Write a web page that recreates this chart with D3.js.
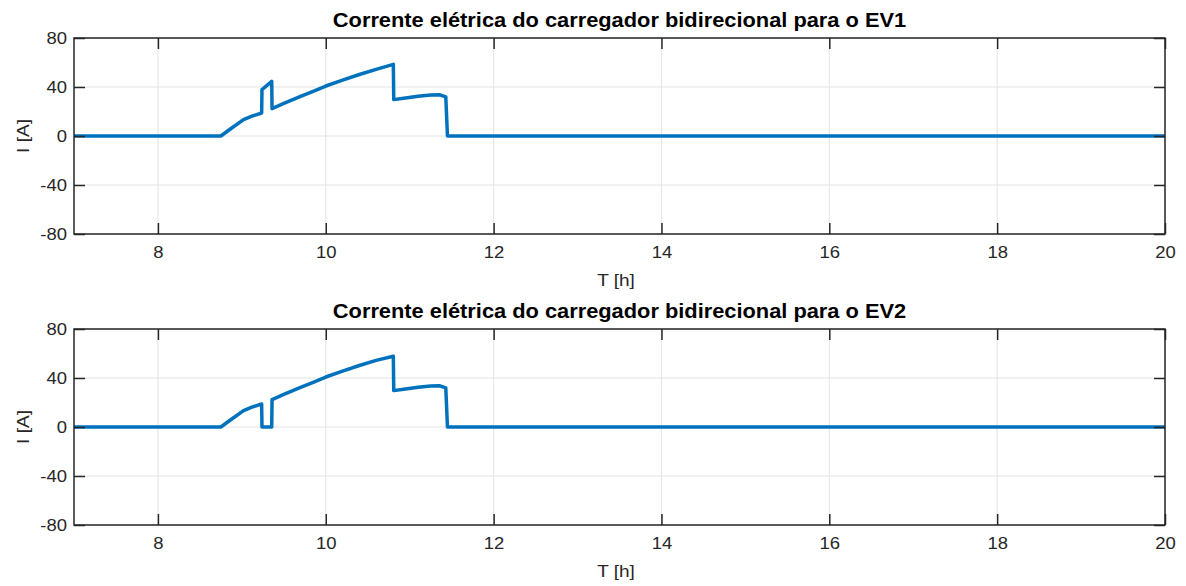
<!DOCTYPE html>
<html>
<head>
<meta charset="utf-8">
<script src="https://cdn.jsdelivr.net/npm/d3@7"></script>
<style>
  html, body { margin: 0; padding: 0; background: #fff; }
  svg { display: block; font-family: "Liberation Sans", Arial, Helvetica, sans-serif; }
</style>
</head>
<body>
<svg id="chart" width="1186" height="586"></svg>
<script>
// Time axis (hours) and charger current (A) for each vehicle
const timeEV1 = [7, 8.75, 8.88, 9.02, 9.12, 9.236, 9.24, 9.356, 9.36, 9.5, 9.7, 9.85, 10.0, 10.2, 10.4, 10.6, 10.805, 10.81, 10.95, 11.1, 11.25, 11.36, 11.43, 11.45, 20];
const currentEV1 = [0, 0, 6.5, 13.4, 16.2, 18.8, 37.9, 44.6, 22.3, 26.6, 32.3, 36.5, 40.8, 45.6, 50.2, 54.4, 58.5, 29.7, 31.0, 32.4, 33.4, 33.6, 32.0, 0, 0];

const timeEV2 = [7, 8.75, 8.88, 9.02, 9.12, 9.236, 9.24, 9.356, 9.36, 9.5, 9.7, 9.85, 10.0, 10.2, 10.4, 10.6, 10.805, 10.81, 10.95, 11.1, 11.25, 11.36, 11.43, 11.45, 20];
const currentEV2 = [0, 0, 6.5, 13.4, 16.2, 18.8, 0, 0, 22.3, 26.6, 32.3, 36.5, 40.8, 45.6, 50.2, 54.4, 57.8, 29.7, 31.0, 32.4, 33.4, 33.6, 32.0, 0, 0];

const xTicks = [8, 10, 12, 14, 16, 18, 20];
const yTicks = [-80, -40, 0, 40, 80];

const panels = [
  { title: "Corrente elétrica do carregador bidirecional para o EV1", t: timeEV1, i: currentEV1, top: 38, bottom: 234 },
  { title: "Corrente elétrica do carregador bidirecional para o EV2", t: timeEV2, i: currentEV2, top: 329, bottom: 525 }
];

const svg = d3.select("#chart");
const left = 74, right = 1165;
const axisColor = "#262626";
const tickLen = 11;
const stretch = 1.12;   // slightly widened glyphs

// widen a text element horizontally around its anchor point
function widen(sel, k) {
  sel.each(function () {
    const t = d3.select(this);
    const ax = +t.attr("x") || 0;
    const prev = t.attr("transform") || "";
    t.attr("transform", `${prev} translate(${ax},0) scale(${k},1) translate(${-ax},0)`);
  });
}

panels.forEach(p => {
  const x = d3.scaleLinear().domain([7, 20]).range([left, right]);
  const y = d3.scaleLinear().domain([-80, 80]).range([p.bottom, p.top]);
  const g = svg.append("g");

  // grid
  g.selectAll(".gx").data(xTicks).join("line")
    .attr("x1", d => x(d)).attr("x2", d => x(d))
    .attr("y1", p.top).attr("y2", p.bottom)
    .attr("stroke", "#e3e3e3").attr("stroke-width", 1);
  g.selectAll(".gy").data(yTicks).join("line")
    .attr("x1", left).attr("x2", right)
    .attr("y1", d => y(d)).attr("y2", d => y(d))
    .attr("stroke", "#e3e3e3").attr("stroke-width", 1);

  // series line
  const line = d3.line().x((d, k) => x(p.t[k])).y(d => y(d));
  g.append("path").datum(p.i)
    .attr("d", line)
    .attr("fill", "none")
    .attr("stroke", "#0072BD")
    .attr("stroke-width", 3.5)
    .attr("stroke-linejoin", "round");

  // axes (inward ticks, mirrored on all sides)
  const fmt = d => String(d);
  const axB = d3.axisBottom(x).tickValues(xTicks).tickFormat(fmt).tickSizeInner(-tickLen).tickSizeOuter(0).tickPadding(12.5);
  const axT = d3.axisTop(x).tickValues(xTicks).tickSizeInner(-tickLen).tickSizeOuter(0).tickFormat("");
  const axL = d3.axisLeft(y).tickValues(yTicks).tickFormat(fmt).tickSizeInner(-tickLen).tickSizeOuter(0).tickPadding(7);
  const axR = d3.axisRight(y).tickValues(yTicks).tickSizeInner(-tickLen).tickSizeOuter(0).tickFormat("");

  const styleAxis = sel => {
    sel.select(".domain").remove();
    sel.selectAll("line").attr("stroke", axisColor).attr("stroke-width", 1.5);
    sel.selectAll("text").attr("fill", axisColor).style("font-size", "16.5px")
      .style("font-family", "Liberation Sans, Arial, sans-serif")
      .call(widen, stretch);
  };
  g.append("g").attr("transform", `translate(0,${p.bottom})`).call(axB).call(styleAxis);
  g.append("g").attr("transform", `translate(0,${p.top})`).call(axT).call(styleAxis);
  g.append("g").attr("transform", `translate(${left},0)`).call(axL).call(styleAxis);
  g.append("g").attr("transform", `translate(${right},0)`).call(axR).call(styleAxis);

  // frame
  g.append("rect")
    .attr("x", left).attr("y", p.top)
    .attr("width", right - left).attr("height", p.bottom - p.top)
    .attr("fill", "none").attr("stroke", axisColor).attr("stroke-width", 1.5);

  // title
  g.append("text")
    .attr("x", (left + right) / 2).attr("y", p.top - 11)
    .attr("text-anchor", "middle")
    .attr("fill", "#000")
    .style("font-size", "20.5px").style("font-weight", "bold")
    .text(p.title)
    .call(widen, 1.065);

  // axis labels
  g.append("text")
    .attr("x", 616).attr("y", p.bottom + 52)
    .attr("text-anchor", "middle")
    .attr("fill", axisColor)
    .style("font-size", "17px")
    .text("T [h]")
    .call(widen, stretch);
  g.append("g")
    .attr("transform", `translate(29,${(p.top + p.bottom) / 2}) rotate(-90)`)
    .append("text")
    .attr("x", 0).attr("y", 0)
    .attr("text-anchor", "middle")
    .attr("fill", axisColor)
    .style("font-size", "17px")
    .text("I [A]")
    .call(widen, stretch);
});
</script>
</body>
</html>
